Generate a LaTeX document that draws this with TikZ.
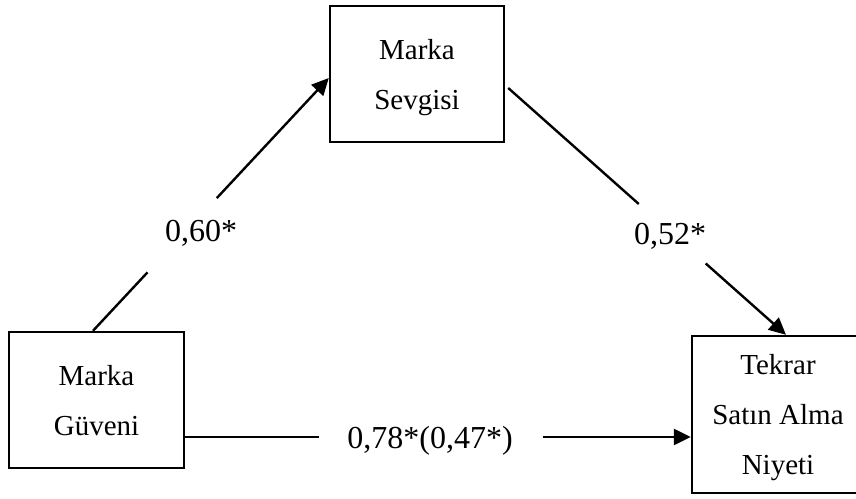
\documentclass[tikz,border=0pt]{standalone}
\usepackage{fontspec}
\setmainfont{Liberation Serif}
\usetikzlibrary{arrows.meta,calc}

\begin{document}
\begin{tikzpicture}[x=1pt,y=1pt,
  construct/.style={draw, line width=2.4pt, rectangle, inner sep=0pt,
    align=center, font=\fontsize{29}{50}\selectfont},
  coef/.style={font=\fontsize{32}{36}\selectfont, anchor=base, inner sep=0pt},
  path/.style={line width=2.4pt},
  patharrow/.style={line width=2.4pt, -{Triangle[length=17pt,width=16pt]}}]

  % page frame
  \useasboundingbox (0,0) rectangle (856,498);
  \clip (0,0) rectangle (856,498);

  % constructs (the invisible rules set the first line's height)
  \node[construct, minimum width=174pt, minimum height=136pt] (mt) at (417,424)
    {\rule{0pt}{28pt}Marka\\Sevgisi};
  \node[construct, minimum width=175pt, minimum height=136pt] (lb) at (96.5,98)
    {\rule{0pt}{22pt}Marka\\Güveni};
  \node[construct, minimum width=172pt, minimum height=157pt] (rb) at (778,83.5)
    {\rule{0pt}{26pt}Tekrar\\Satın Alma\\Niyeti};

  % path coefficients
  \node[coef] (c1) at (201,256) {0,60*};
  \node[coef] (c2) at (670,253) {0,52*};
  \node[coef] (c3) at (430,50) {0,78*(0,47*)};

  % Marka Güveni -> Marka Sevgisi
  \coordinate (a1s) at ($(lb.north)+(-3.5,0)$);
  \coordinate (a1e) at ($(mt.west)+(0,-4)$);
  \coordinate (a1p) at ($(a1s)!0.231!(a1e)$);
  \coordinate (a1q) at ($(a1s)!0.525!(a1e)$);
  \draw[path] (a1s) -- (a1p);
  \draw[patharrow] (a1q) -- (a1e);

  % Marka Sevgisi -> Tekrar Satın Alma Niyeti
  \coordinate (a2s) at ($(mt.east)+(3,-14)$);
  \coordinate (a2e) at ($(rb.north)+(8,0)$);
  \coordinate (a2p) at ($(a2s)!0.47!(a2e)$);
  \coordinate (a2q) at ($(a2s)!0.711!(a2e)$);
  \draw[path] (a2s) -- (a2p);
  \draw[patharrow] (a2q) -- (a2e);

  % Marka Güveni -> Tekrar Satın Alma Niyeti (direct effect)
  \coordinate (a3s) at ($(lb.east)+(0,-37)$);
  \coordinate (a3e) at (a3s -| rb.west);
  \coordinate (a3p) at ($(a3s)!0.264!(a3e)$);
  \coordinate (a3q) at ($(a3s)!0.707!(a3e)$);
  \draw[path] (a3s) -- (a3p);
  \draw[patharrow] (a3q) -- (a3e);
\end{tikzpicture}
\end{document}
